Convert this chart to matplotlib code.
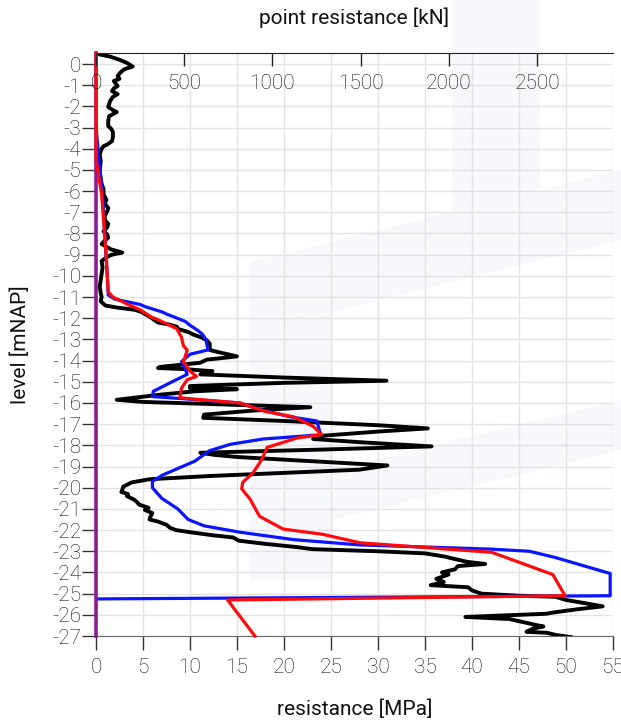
import matplotlib
matplotlib.use("Agg")
import matplotlib.pyplot as plt
from matplotlib.patches import Polygon
import numpy as np

# ---------------- data ----------------
# CPT cone resistance (black) : level [mNAP], qc [MPa]
cpt_level = [0.47, 0.35, 0.2, 0.05, -0.12, -0.25, -0.4, -0.57, -0.7, -0.8, -0.92, -1.04, -1.15, -1.28,
             -1.42, -1.55, -1.75, -2.03, -2.15, -2.27, -2.46, -2.7, -2.93, -3.05, -3.2, -3.45, -3.64,
             -3.8, -3.88, -4.0, -4.26, -4.6, -5.06, -5.4, -5.67, -5.9, -6.15, -6.4, -6.6, -6.8, -6.95,
             -7.2, -7.4, -7.55, -7.7, -7.9, -8.05, -8.2, -8.35, -8.5, -8.75, -8.9, -9.0, -9.1, -9.3,
             -9.6, -9.9, -10.2, -10.5, -10.8, -11.0, -11.2, -11.4, -11.5, -11.55, -11.6, -11.7, -11.8,
             -11.95, -12.05, -12.2, -12.3, -12.4, -12.5, -12.65, -12.8, -12.9, -13.05, -13.2, -13.5,
             -13.65, -13.8, -13.9, -13.95, -14.1, -14.2, -14.3, -14.35, -14.4, -14.5, -14.6, -14.65,
             -14.8, -14.95, -15.05, -15.2, -15.3, -15.35, -15.45, -15.6, -15.85, -15.95, -16.05, -16.2,
             -16.35, -16.55, -16.7, -16.85, -17.05, -17.2, -17.35, -17.55, -17.7, -17.85, -18.05,
             -18.2, -18.35, -18.45, -18.55, -18.65, -18.8, -18.95, -19.15, -19.3, -19.45, -19.6,
             -19.75, -19.95, -20.1, -20.2, -20.3, -20.4, -20.55, -20.65, -20.8, -20.95, -21.05, -21.2,
             -21.35, -21.5, -21.6, -21.75, -21.9, -22.0, -22.1, -22.25, -22.35, -22.5, -22.65, -22.8,
             -22.9, -23.0, -23.1, -23.25, -23.35, -23.5, -23.6, -23.7, -23.85, -24.0, -24.1, -24.3,
             -24.45, -24.6, -24.7, -24.85, -25.0, -25.1, -25.15, -25.3, -25.45, -25.6, -25.75, -25.9,
             -25.95, -26.05, -26.1, -26.2, -26.35, -26.5, -26.55, -26.65, -26.8, -26.85, -26.95, -27.05]
cpt_qc = [0.2, 1.5, 2.5, 3.3, 3.9, 3.0, 2.6, 2.3, 2.5, 1.9, 2.1, 2.3, 1.9, 1.7,
          2.3, 1.8, 1.5, 1.3, 1.7, 2.2, 1.4, 1.3, 1.3, 1.6, 1.8, 1.8, 1.7,
          1.2, 0.8, 0.6, 0.4, 0.5, 0.4, 0.5, 0.6, 0.8, 0.8, 1.1, 0.95, 1.3, 1.2,
          0.9, 1.0, 1.3, 1.2, 0.8, 1.2, 1.3, 0.9, 0.6, 1.6, 2.8, 1.7, 1.2, 0.6,
          0.7, 0.6, 0.5, 0.4, 0.5, 0.6, 0.5, 1.0, 2.3, 3.2, 4.1, 4.8, 5.2,
          5.8, 6.1, 6.6, 7.8, 8.6, 8.7, 9.8, 10.5, 11.2, 11.8, 12.1, 12.1,
          13.5, 15.0, 13.0, 11.8, 11.1, 9.0, 6.8, 6.6, 9.3, 12.4, 11.6, 11.1,
          20.0, 30.9, 20.0, 10.0, 10.0, 15.0, 10.5, 7.0, 2.2, 5.0, 12.0, 22.8,
          17.0, 11.5, 11.4, 20.0, 30.0, 35.3, 30.0, 24.0, 23.1, 28.0, 35.7,
          24.0, 11.1, 12.6, 15.0, 19.0, 25.0, 31.0, 28.0, 20.0, 12.0, 5.7,
          3.8, 2.9, 2.8, 2.7, 3.4, 3.3, 4.0, 4.3, 4.6, 5.6, 5.2, 6.0,
          5.8, 5.7, 6.6, 7.5, 7.9, 8.5, 10.0, 12.5, 14.6, 15.2, 18.0, 21.3,
          23.0, 30.0, 35.0, 37.1, 38.0, 39.5, 41.4, 38.5, 38.2, 36.8, 37.5, 36.2,
          37.0, 35.6, 39.6, 40.0, 41.0, 45.0, 48.9, 50.0, 52.0, 53.9, 51.0, 48.5,
          47.9, 42.0, 39.3, 44.0, 45.5, 47.0, 47.6, 46.5, 45.8, 48.0, 48.9, 50.5]

# Averaged resistance, method 1 (blue)
blue_level = [-2.9, -4.5, -6.15, -8.5, -10.0, -10.9, -11.1, -11.35, -11.45, -11.7, -11.8, -12.15,
              -12.3, -12.6, -12.75, -13.0, -13.5, -13.7, -14.05, -14.3, -14.65, -15.0, -15.45,
              -15.7, -15.8, -16.0, -16.3, -16.65, -16.85, -17.35, -17.5, -17.7, -17.95, -18.25,
              -18.75, -19.4, -19.7, -20.0, -20.5, -21.0, -21.5, -21.8, -22.1, -22.45, -22.7,
              -22.9, -23.0, -23.3, -24.05, -25.1, -25.25]
blue_val = [0.0, 0.3, 0.7, 1.0, 1.2, 1.3, 2.0, 4.7, 5.2, 7.0, 7.5, 9.5,
            9.9, 10.9, 11.3, 11.7, 11.9, 10.0, 9.1, 9.4, 9.7, 8.1, 6.1,
            6.0, 9.3, 15.3, 17.4, 20.6, 23.5, 23.8, 24.0, 17.8, 14.3, 12.1,
            10.5, 7.1, 6.0, 6.0, 7.0, 8.7, 9.8, 11.5, 15.3, 21.0, 28.0,
            42.1, 46.1, 48.9, 54.7, 54.7, 0.0]

# Averaged resistance, method 2 (red)
red_level = [0.52, -4.5, -6.15, -8.5, -10.75, -11.0, -11.35, -11.6, -11.95, -12.05, -12.5, -12.9,
             -13.3, -13.5, -13.8, -14.05, -14.5, -14.75, -14.9, -15.3, -15.75, -15.8, -16.0,
             -16.4, -16.65, -17.1, -17.5, -17.65, -18.1, -18.7, -19.3, -19.75, -20.05, -20.55,
             -21.35, -21.95, -22.2, -22.6, -23.05, -24.1, -25.1, -25.3, -27.0]
red_val = [0.0, 0.0, 0.6, 1.0, 1.3, 1.8, 3.4, 4.7, 5.9, 6.5, 8.6, 9.1,
           9.3, 9.7, 9.5, 9.3, 10.0, 10.7, 9.7, 9.1, 8.9, 10.0, 15.3,
           18.0, 21.0, 23.1, 24.0, 21.4, 18.2, 17.6, 16.7, 15.6, 15.5, 16.4,
           17.4, 19.9, 24.1, 28.1, 42.1, 48.6, 49.9, 14.0, 16.9]

# purple reference line
purple_level = [0.52, -27.0]
purple_val = [0.0, 0.0]

level_ticks = list(range(-27, 1))
mpa_ticks = list(range(0, 56, 5))
kn_ticks = [0, 500, 1000, 1500, 2000, 2500]
kn_max = 2930

# ---------------- style ----------------
plt.rcParams['font.family'] = ['Roboto', 'DejaVu Sans']
plt.rcParams['font.weight'] = 'light'
TXT = '#111111'

W, H = 621, 724
fig = plt.figure(figsize=(W / 100, H / 100), dpi=100)

# faint background logo (decoration)
def px_poly(pts, **kw):
    xy = [(x / W, 1 - y / H) for x, y in pts]
    return Polygon(xy, closed=True, transform=fig.transFigure, **kw)

logo_col = '#f7f8fc'
for pts in [
    [(452, 0), (540, 0), (540, 200), (452, 222)],
    [(250, 262), (621, 170), (621, 240), (250, 332)],
    [(250, 332), (333, 312), (333, 580), (250, 580)],
    [(333, 470), (621, 400), (621, 450), (333, 520)],
]:
    fig.patches.append(px_poly(pts, facecolor=logo_col, edgecolor='none', zorder=-5))

ax = fig.add_axes([96 / W, 1 - 636 / H, (613 - 96) / W, (636 - 53) / H])
ax.set_facecolor('none')
ax.set_zorder(1)

ax.plot(cpt_qc, cpt_level, color='black', lw=2.8, zorder=3, solid_joinstyle='round')
ax.plot(blue_val, blue_level, color='#0a14ff', lw=2.3, zorder=4)
ax.plot(purple_val, purple_level, color='#8c1a96', lw=2.6, zorder=5, clip_on=False)
ax.plot(red_val, red_level, color='#ff0a0a', lw=2.3, zorder=6, clip_on=False)

ax.set_xlim(0, 55)
ax.set_ylim(-27, 0.52)
ax.set_xticks(mpa_ticks)
ax.set_yticks(level_ticks)
ax.set_yticklabels([str(v) for v in level_ticks])
ax.grid(True, color='#e3e3e3', lw=1.0, zorder=0)
ax.set_axisbelow(True)

ax.spines['right'].set_visible(False)
ax.spines['top'].set_visible(False)
ax.spines['bottom'].set_color('#666666')
ax.spines['left'].set_color('#333333')

ax.tick_params(axis='x', direction='out', length=10, width=1, color='#333333',
               labelsize=15, pad=6, labelcolor=TXT)
ax.tick_params(axis='y', direction='out', length=10, width=1, color='#333333',
               labelsize=15, pad=0.5, labelcolor=TXT)

ax.set_xlabel('resistance [MPa]', fontsize=15, color=TXT, labelpad=16)
ax.set_ylabel('level [mNAP]', fontsize=15, color=TXT, labelpad=16)

# top axis in kN
ax2 = ax.twiny()
ax2.set_xlim(0, kn_max)
ax2.set_xticks(kn_ticks)
ax2.tick_params(axis='x', direction='in', length=9.5, width=1, color='#222222',
                labelsize=15, pad=-29, labelcolor=TXT)
for s in ['right', 'left', 'bottom']:
    ax2.spines[s].set_visible(False)
ax2.spines['top'].set_color('#222222')
ax2.set_xlabel('point resistance [kN]', fontsize=15, color=TXT, labelpad=21)

fig.savefig('out.png', dpi=100)
